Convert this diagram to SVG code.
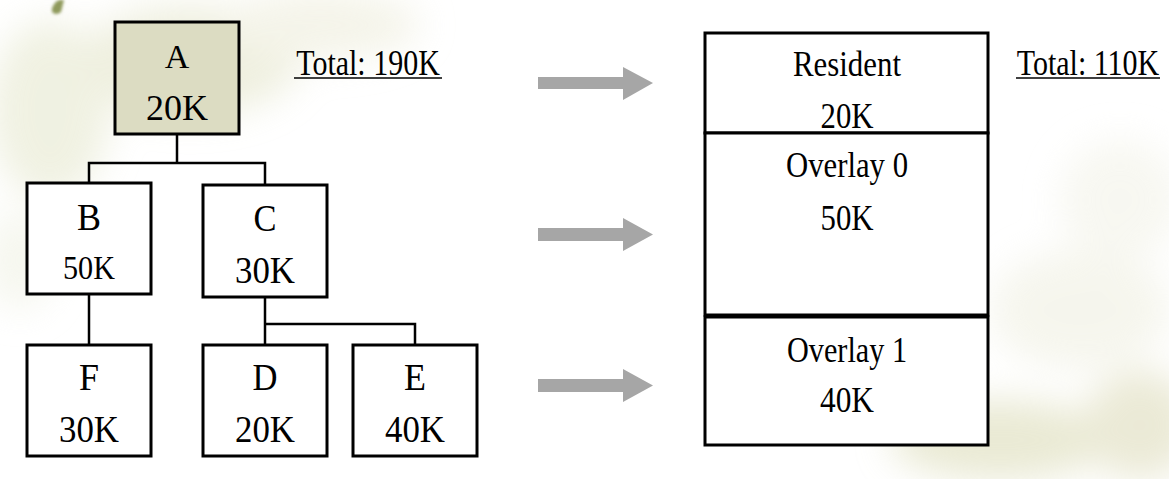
<svg xmlns="http://www.w3.org/2000/svg" width="1169" height="479" viewBox="0 0 1169 479">
<style>
.box{fill:#ffffff;stroke:#000;stroke-width:3}
.t{font-family:"Liberation Serif","Times New Roman",serif;fill:#000;text-anchor:middle}
.big{font-size:38px}
.val{font-size:38px}
.sm{font-size:35px}
.tot{font-size:30px}
.conn{fill:none;stroke:#000;stroke-width:2.5}
.arr{fill:#a6a6a6}
</style>
<defs>
<filter id="blur" x="-50%" y="-50%" width="200%" height="200%"><feGaussianBlur stdDeviation="18"/></filter>
<filter id="blur2" x="-50%" y="-50%" width="200%" height="200%"><feGaussianBlur stdDeviation="1.5"/></filter>
</defs>
<rect width="1169" height="479" fill="#ffffff"/>
<g id="background" filter="url(#blur)" opacity="0.6">
<ellipse cx="50" cy="110" rx="60" ry="90" fill="#e6e8cf"/>
<ellipse cx="190" cy="60" rx="110" ry="55" fill="#e4e5ca"/>
<ellipse cx="320" cy="25" rx="100" ry="35" fill="#eeeddb"/>
<ellipse cx="20" cy="260" rx="35" ry="50" fill="#f0f2e4"/>
<ellipse cx="1080" cy="310" rx="90" ry="60" fill="#f0f0e2"/>
<ellipse cx="1000" cy="440" rx="110" ry="40" fill="#dcdcb8"/>
<ellipse cx="1140" cy="425" rx="55" ry="55" fill="#dedcbb"/>
<ellipse cx="1120" cy="200" rx="60" ry="60" fill="#f3f3e8"/>
</g>
<path d="M52 8 Q56 -2 64 0 L61 12 Q56 16 52 12 Z" fill="#8f9a5c" filter="url(#blur2)"/>
<g id="connectors">
<polyline class="conn" points="177,134 177,163"/>
<polyline class="conn" points="89,183 89,163 265,163 265,185"/>
<polyline class="conn" points="89,294 89,345"/>
<polyline class="conn" points="265,297 265,345"/>
<polyline class="conn" points="265,324 415,324 415,345"/>
</g>
<g id="node-A">
<rect class="box" x="115" y="22" width="124" height="112" style="fill:#dcdcc2"/>
<text class="t" x="177" y="68" style="font-size:34px">A</text>
<text class="t" x="177" y="120" style="font-size:35px" textLength="62" lengthAdjust="spacingAndGlyphs">20K</text>
</g>
<g id="node-B">
<rect class="box" x="27" y="183" width="124" height="111"/>
<text class="t big" x="89" y="230" textLength="24" lengthAdjust="spacingAndGlyphs">B</text>
<text class="t" x="89" y="279" style="font-size:34px" textLength="52" lengthAdjust="spacingAndGlyphs">50K</text>
</g>
<g id="node-C">
<rect class="box" x="203" y="185" width="124" height="112"/>
<text class="t big" x="265" y="231" textLength="23" lengthAdjust="spacingAndGlyphs">C</text>
<text class="t val" x="265" y="283" textLength="60" lengthAdjust="spacingAndGlyphs">30K</text>
</g>
<g id="node-F">
<rect class="box" x="27" y="345" width="124" height="111"/>
<text class="t big" x="89" y="390" textLength="20" lengthAdjust="spacingAndGlyphs">F</text>
<text class="t val" x="89" y="442" textLength="60" lengthAdjust="spacingAndGlyphs">30K</text>
</g>
<g id="node-D">
<rect class="box" x="203" y="345" width="124" height="111"/>
<text class="t big" x="265" y="390" textLength="25" lengthAdjust="spacingAndGlyphs">D</text>
<text class="t val" x="265" y="442" textLength="60" lengthAdjust="spacingAndGlyphs">20K</text>
</g>
<g id="node-E">
<rect class="box" x="353" y="345" width="124" height="111"/>
<text class="t big" x="415" y="390" textLength="22" lengthAdjust="spacingAndGlyphs">E</text>
<text class="t val" x="415" y="442" textLength="60" lengthAdjust="spacingAndGlyphs">40K</text>
</g>
<g id="total-left">
<text class="t tot" transform="translate(368,75) scale(1,1.2)" x="0" y="0">Total: 190K</text>
<line x1="294" y1="78" x2="442" y2="78" stroke="#000" stroke-width="1.5"/>
</g>
<g id="arrows">
<polygon class="arr" points="538,77 623,77 623,67 653,83 623,100 623,89 538,89"/>
<polygon class="arr" points="538,228 623,228 623,218 653,234.5 623,251 623,241 538,241"/>
<polygon class="arr" points="538,379 623,379 623,369 653,385.5 623,402 623,392 538,392"/>
</g>
<g id="node-resident">
<rect class="box" x="705" y="33" width="283" height="100"/>
<text class="t sm" x="847" y="76" textLength="108" lengthAdjust="spacingAndGlyphs">Resident</text>
<text class="t sm" x="847" y="128" textLength="53" lengthAdjust="spacingAndGlyphs">20K</text>
</g>
<g id="node-overlay0">
<rect class="box" x="705" y="133" width="283" height="182"/>
<text class="t sm" x="847" y="177" textLength="122" lengthAdjust="spacingAndGlyphs">Overlay 0</text>
<text class="t sm" x="847" y="230" textLength="53" lengthAdjust="spacingAndGlyphs">50K</text>
</g>
<g id="node-overlay1">
<rect class="box" x="705" y="317" width="283" height="128"/>
<text class="t sm" x="847" y="362" textLength="120" lengthAdjust="spacingAndGlyphs">Overlay 1</text>
<text class="t sm" x="847" y="412" textLength="54" lengthAdjust="spacingAndGlyphs">40K</text>
</g>
<g id="total-right">
<text class="t tot" transform="translate(1088,75) scale(1,1.2)" x="0" y="0">Total: 110K</text>
<line x1="1016" y1="78" x2="1160" y2="78" stroke="#000" stroke-width="1.5"/>
</g>
</svg>
